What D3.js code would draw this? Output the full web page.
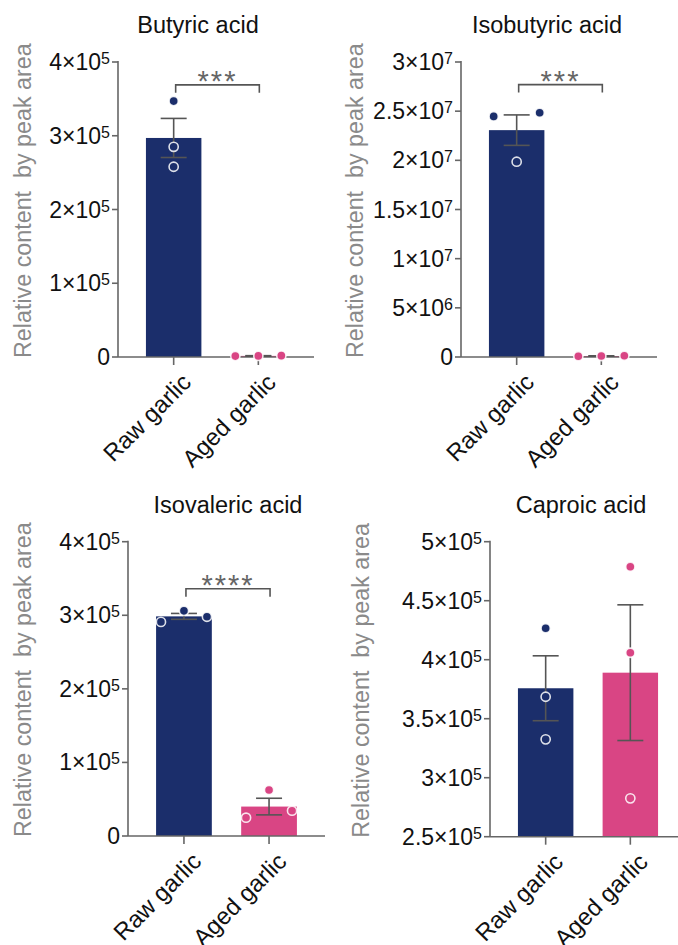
<!DOCTYPE html>
<html>
 <head>
  <meta charset="utf-8">
  <script src="https://d3js.org/d3.v7.min.js"></script>
  <style type="text/css">
    body { margin: 0; background: #fff; }
    svg { display: block; font-family: "Liberation Sans", Arial, sans-serif; }
  </style>
 </head>
<body>
  <div id="chart"></div>

  <script type="text/javascript">

    // values
    var acids = ["Butyric acid", "Isobutyric acid", "Isovaleric acid", "Caproic acid"];
    var groups = ["Raw garlic", "Aged garlic"];

    var rawMean = [297000, 23070000, 298500, 375800];
    var rawSem = [26500, 1550000, 4000, 27500];
    var agedMean = [1500, 100000, 40000, 389000];
    var agedSem = [300, 20000, 11300, 57500];

    var rawPoints = [
      [347000, 285000, 258000],
      [24470000, 24840000, 19860000],
      [291000, 306000, 298000],
      [426600, 368600, 332500]
    ];
    var agedPoints = [
      [1200, 1500, 1800],
      [80000, 100000, 120000],
      [24900, 62500, 34400],
      [478800, 405900, 282500]
    ];

    var stars = ["***", "***", "****", ""];

    var yDomains = [[0, 4e5], [0, 3e7], [0, 4e5], [2.5e5, 5e5]];
    var yTicks = [
      [0, 1e5, 2e5, 3e5, 4e5],
      [0, 5e6, 1e7, 1.5e7, 2e7, 2.5e7, 3e7],
      [0, 1e5, 2e5, 3e5, 4e5],
      [2.5e5, 3e5, 3.5e5, 4e5, 4.5e5, 5e5]
    ];

    // panel layout (pixels), bracket height in data units
    var layout = [
      { x0: 118, x1: 314, top: 62, bot: 357, titleX: 198, titleY: 33, labX: 31, sig: 3.69e5,
        rawSlot: [0, 0, 0], agedSlot: [-1, 0, 1] },
      { x0: 461, x1: 657, top: 62, bot: 357, titleX: 547, titleY: 33, labX: 363, sig: 2.77e7,
        rawSlot: [-1, 1, 0], agedSlot: [-1, 0, 1] },
      { x0: 128, x1: 325, top: 541.7, bot: 836, titleX: 228, titleY: 513, labX: 31, sig: 3.36e5,
        rawSlot: [-1, 0, 1], agedSlot: [-1, 0, 1] },
      { x0: 490, x1: 686, top: 541.7, bot: 836.7, titleX: 581, titleY: 513, labX: 369, sig: null,
        rawSlot: [0, 0, 0], agedSlot: [0, 0, 0] }
    ];

    var colors = ["#1b2e6b", "#d94584"];
    var axisCol = "#666";
    var errCol = "#555";

    var W = 678, H = 945;
    var svg = d3.select("#chart").append("svg").attr("width", W).attr("height", H);

    function tickLabel(sel, v) {
      if (v === 0) { sel.text("0"); return; }
      var e = Math.floor(Math.log10(v) + 1e-9);
      var m = +(v / Math.pow(10, e)).toFixed(2);
      sel.append("tspan").text(m + "\u00d710");
      sel.append("tspan").attr("dy", -6).style("font-size", "16px").text(e);
    }

    acids.forEach(function (name, i) {
      var L = layout[i];
      var g = svg.append("g");

      var x = d3.scaleBand().domain(groups).range([L.x0, L.x1])
        .paddingInner(0.345).paddingOuter(0.33);
      var y = d3.scaleLinear().domain(yDomains[i]).range([L.bot, L.top]);
      var bw = x.bandwidth();
      var cx = function (d) { return x(d) + bw / 2; };

      var bars = [
        { grp: groups[0], mean: rawMean[i], sem: rawSem[i], pts: rawPoints[i], slot: L.rawSlot, c: colors[0] },
        { grp: groups[1], mean: agedMean[i], sem: agedSem[i], pts: agedPoints[i], slot: L.agedSlot, c: colors[1] }
      ];

      // bars
      g.selectAll("rect.bar").data(bars).enter().append("rect")
        .attr("x", function (d) { return x(d.grp); })
        .attr("width", bw)
        .attr("y", function (d) { return y(d.mean); })
        .attr("height", function (d) { return y(yDomains[i][0]) - y(d.mean); })
        .attr("fill", function (d) { return d.c; });

      // y axis
      var yAxis = g.append("g");
      yAxis.append("line")
        .attr("x1", L.x0).attr("x2", L.x0)
        .attr("y1", y(yDomains[i][1]) - 1).attr("y2", L.bot)
        .attr("stroke", axisCol).attr("stroke-width", 1.6);
      yTicks[i].forEach(function (t) {
        yAxis.append("line")
          .attr("x1", L.x0 - 6).attr("x2", L.x0)
          .attr("y1", y(t)).attr("y2", y(t))
          .attr("stroke", axisCol).attr("stroke-width", 1.6);
        var tx = yAxis.append("text")
          .attr("x", L.x0 - 8).attr("y", y(t) + 8)
          .attr("text-anchor", "end")
          .style("font-size", "23px").attr("fill", "#111");
        tickLabel(tx, t);
      });

      // x axis
      g.append("line")
        .attr("x1", L.x0).attr("x2", L.x1)
        .attr("y1", L.bot).attr("y2", L.bot)
        .attr("stroke", axisCol).attr("stroke-width", 1.6);
      groups.forEach(function (grp) {
        g.append("line")
          .attr("x1", cx(grp)).attr("x2", cx(grp))
          .attr("y1", L.bot).attr("y2", L.bot + 8)
          .attr("stroke", axisCol).attr("stroke-width", 1.6);
        g.append("text")
          .attr("transform", "translate(" + (cx(grp) + 7) + "," + (L.bot + 15) + ") rotate(-45)")
          .attr("text-anchor", "end")
          .attr("dy", "0.7em")
          .style("font-size", "24px").attr("fill", "#111")
          .text(grp);
      });

      // error bars
      bars.forEach(function (d) {
        var c = cx(d.grp);
        var eg = g.append("g").attr("stroke", errCol).attr("stroke-width", 1.6);
        eg.append("line").attr("x1", c).attr("x2", c)
          .attr("y1", y(d.mean - d.sem)).attr("y2", y(d.mean + d.sem));
        [d.mean - d.sem, d.mean + d.sem].forEach(function (v) {
          eg.append("line").attr("x1", c - 13).attr("x2", c + 13)
            .attr("y1", y(v)).attr("y2", y(v));
        });
      });

      // individual points
      bars.forEach(function (d) {
        g.selectAll(null).data(d.pts).enter().append("circle")
          .attr("cx", function (v, k) { return cx(d.grp) + d.slot[k] * 23; })
          .attr("cy", function (v) { return y(v); })
          .attr("r", 4.6)
          .attr("fill", d.c)
          .attr("stroke", "#fff").attr("stroke-opacity", 0.85)
          .attr("stroke-width", 1.6);
      });

      // significance bracket
      if (L.sig !== null) {
        var by = y(L.sig), bx1 = cx(groups[0]) + 2, bx2 = cx(groups[1]) + 1;
        g.append("path")
          .attr("d", "M" + bx1 + "," + (by + 8) + "V" + by + "H" + bx2 + "V" + (by + 8))
          .attr("fill", "none").attr("stroke", errCol).attr("stroke-width", 1.6);
        g.append("text")
          .attr("x", (bx1 + bx2) / 2).attr("y", by + 6)
          .attr("text-anchor", "middle")
          .style("font-size", "29px").style("letter-spacing", "2px")
          .attr("fill", "#666")
          .text(stars[i]);
      }

      // titles
      g.append("text")
        .attr("x", L.titleX).attr("y", L.titleY)
        .attr("text-anchor", "middle")
        .style("font-size", "23.5px").attr("fill", "#111")
        .text(name);

      g.append("text")
        .attr("transform", "translate(" + L.labX + "," + (L.bot + 1) + ") rotate(-90)")
        .attr("text-anchor", "start")
        .style("font-size", "23.3px").attr("fill", "#8a8a8a")
        .text("Relative content\u00a0 by peak area");
    });

  </script>
</body>
</html>
